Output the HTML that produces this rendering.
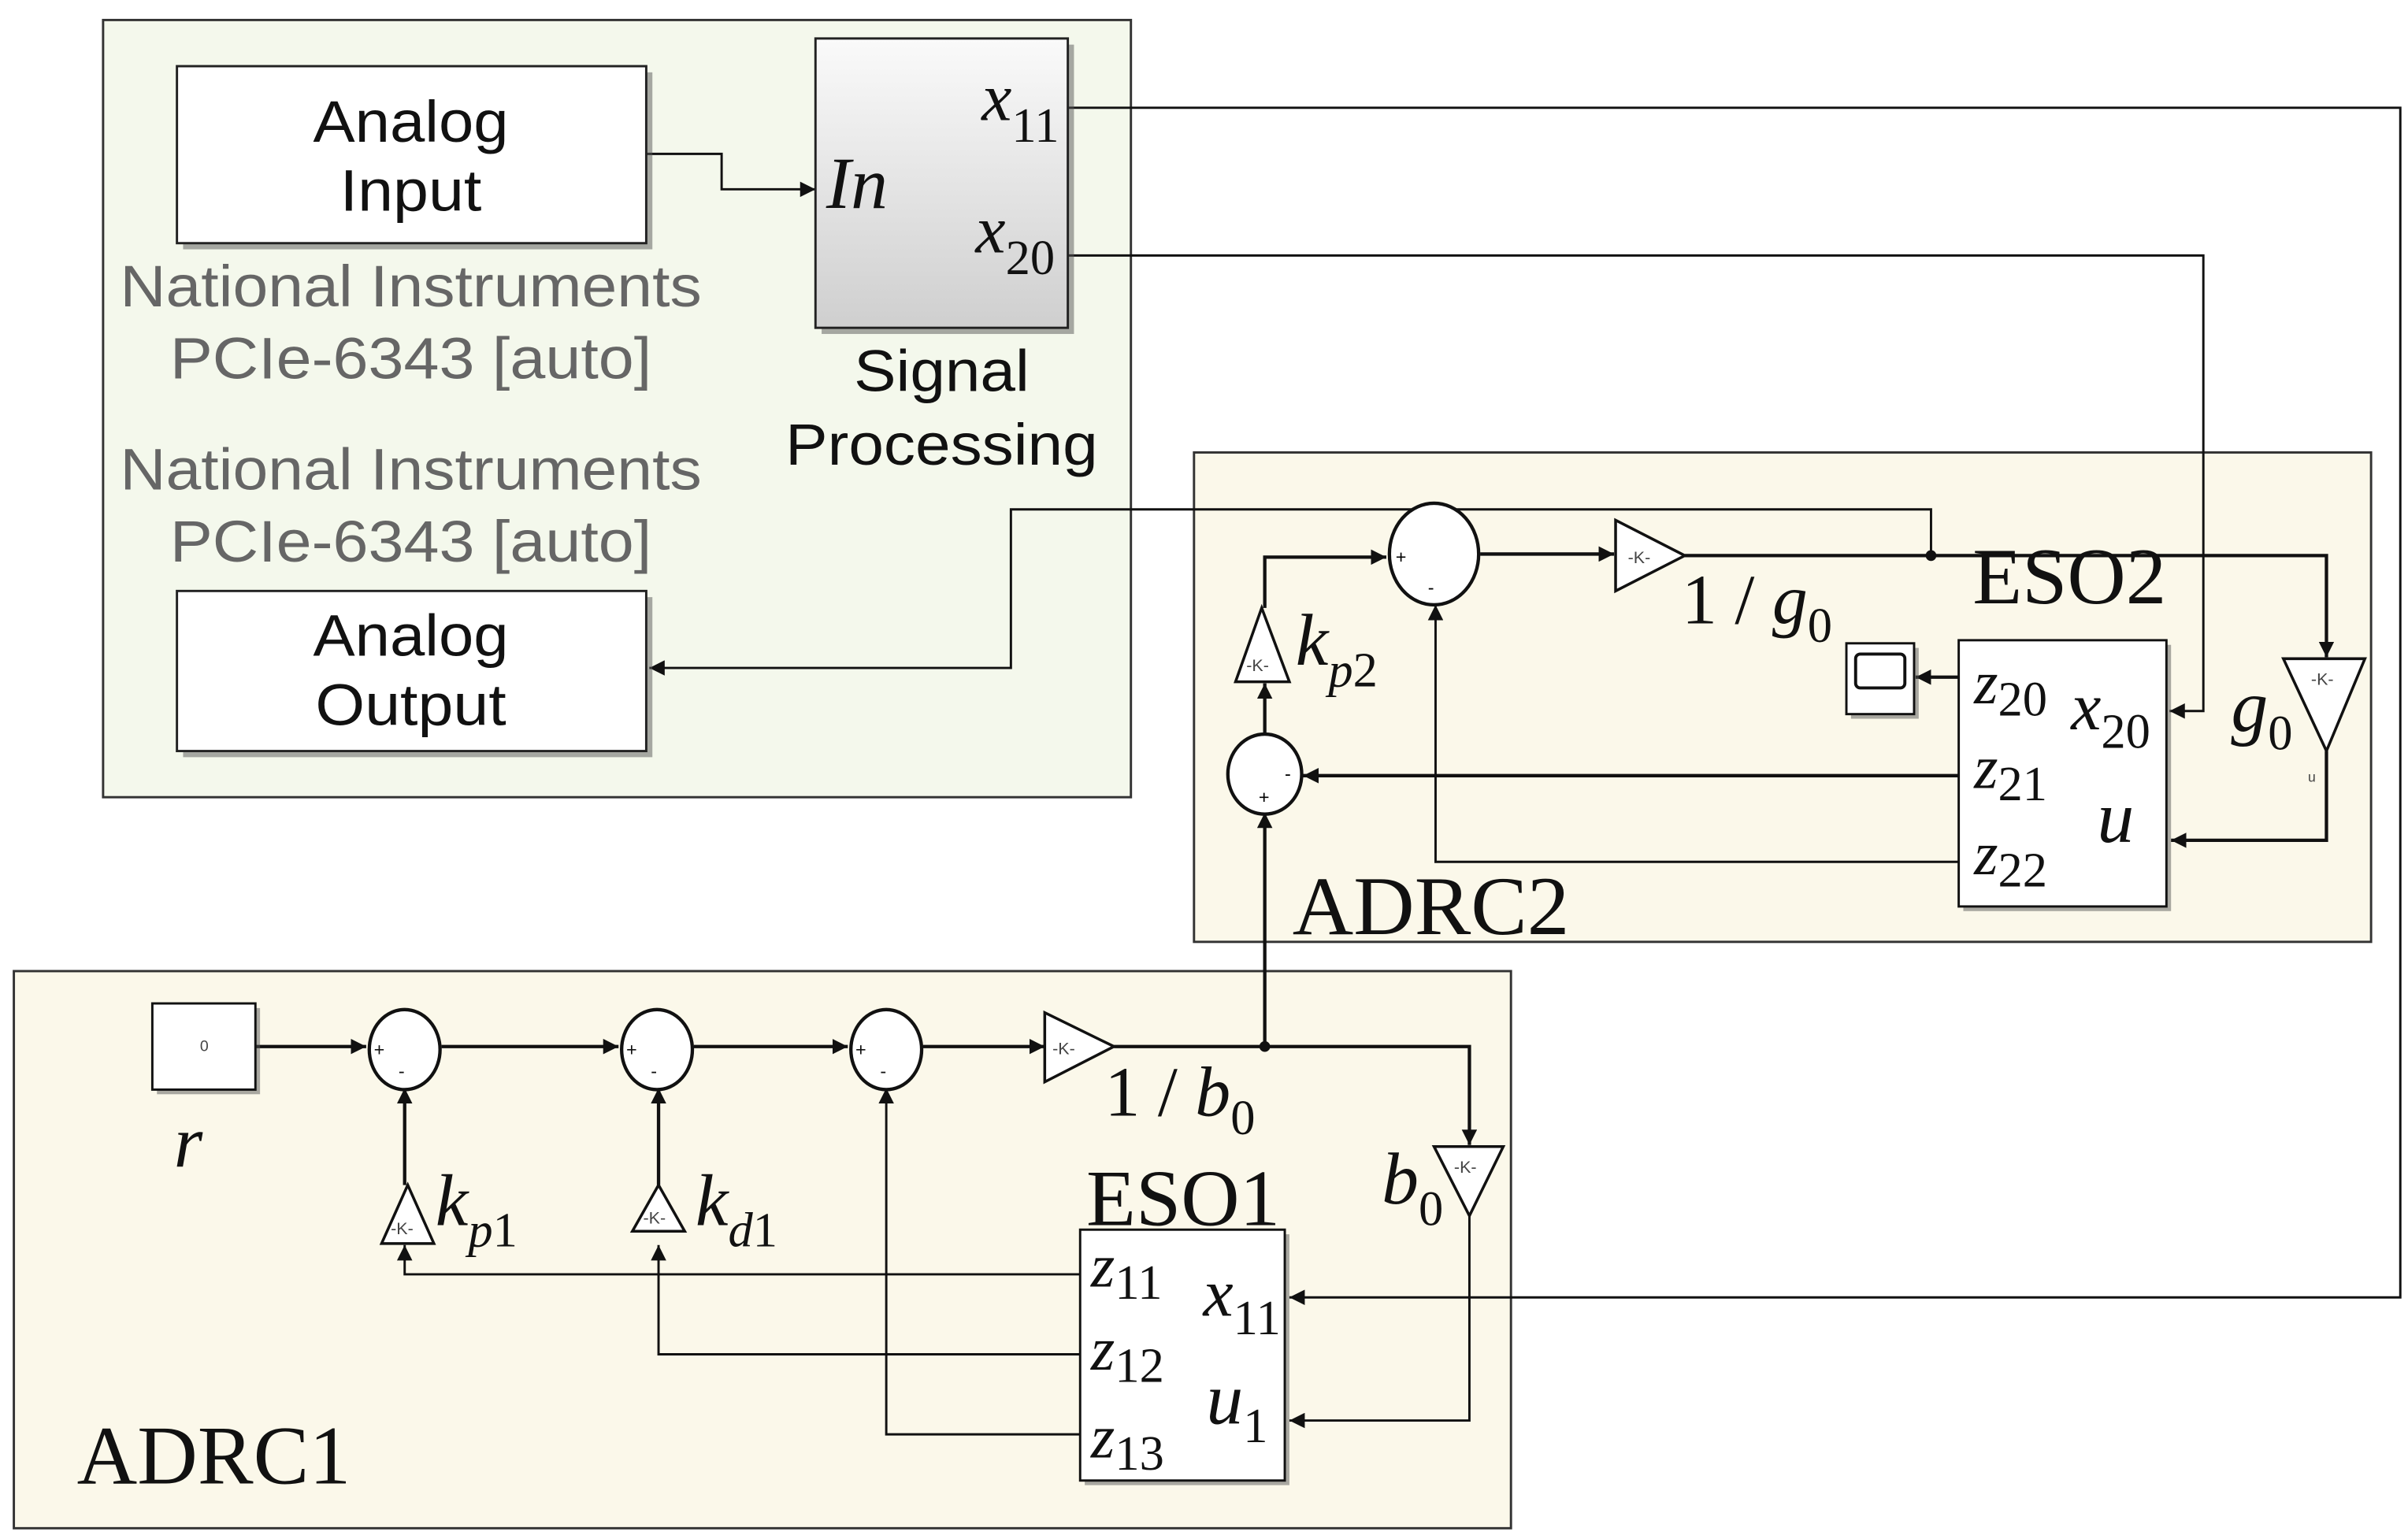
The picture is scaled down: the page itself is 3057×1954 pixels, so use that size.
<!DOCTYPE html>
<html><head><meta charset="utf-8"><style>
html,body{margin:0;padding:0;background:#fff;}
svg{display:block;}
.s{font-family:"Liberation Sans",sans-serif;}
.r{font-family:"Liberation Serif",serif;}
</style></head><body>
<svg width="3057" height="1954" viewBox="0 0 1565 1000" preserveAspectRatio="none" xmlns="http://www.w3.org/2000/svg">
<defs>
<marker id="a" viewBox="0 0 10 10" refX="10" refY="5" markerWidth="10" markerHeight="10" markerUnits="userSpaceOnUse" orient="auto"><path d="M0,0L10,5L0,10z" fill="#111"/></marker>
<linearGradient id="g" x1="0" y1="0" x2="0" y2="1"><stop offset="0" stop-color="#fafafa"/><stop offset="1" stop-color="#cfcfcf"/></linearGradient>
</defs>
<rect width="1565" height="1000" fill="#fff"/>
<rect x="67" y="13" width="668" height="505" fill="#f4f8ec" stroke="#333" stroke-width="1.5"/>
<rect x="776" y="294" width="765" height="318" fill="#fbf8ea" stroke="#333" stroke-width="1.5"/>
<rect x="9" y="631" width="973" height="362" fill="#fbf8ea" stroke="#333" stroke-width="1.5"/>

<g stroke="#111" stroke-width="1.5" fill="none">
<polyline points="420,100 469,100 469,123 530,123" marker-end="url(#a)"/>
<polyline points="694,70 1560,70 1560,843 838,843" marker-end="url(#a)"/>
<polyline points="694,166 1432,166 1432,462 1410,462" marker-end="url(#a)"/>
<polyline points="1255,361 1255,331 657,331 657,434 422,434" marker-end="url(#a)"/>
<g stroke-width="2.2">
<polyline points="822,395 822,362 901,362" marker-end="url(#a)"/>
<line x1="962" y1="360" x2="1049" y2="360" marker-end="url(#a)"/>
<polyline points="1095,361 1512,361 1512,427" marker-end="url(#a)"/>
<polyline points="1512,488 1512,546 1411,546" marker-end="url(#a)"/>
<line x1="1273" y1="440" x2="1245" y2="440" marker-end="url(#a)"/>
<line x1="1273" y1="504" x2="847" y2="504" marker-end="url(#a)"/>
<line x1="822" y1="479" x2="822" y2="444" marker-end="url(#a)"/>
<line x1="822" y1="680" x2="822" y2="528" marker-end="url(#a)"/>
<line x1="166" y1="680" x2="238" y2="680" marker-end="url(#a)"/>
<line x1="287" y1="680" x2="402" y2="680" marker-end="url(#a)"/>
<line x1="451" y1="680" x2="551" y2="680" marker-end="url(#a)"/>
<line x1="600" y1="680" x2="679" y2="680" marker-end="url(#a)"/>
<polyline points="724,680 955,680 955,744" marker-end="url(#a)"/>
<line x1="263" y1="770" x2="263" y2="707" marker-end="url(#a)"/>
<line x1="428" y1="770" x2="428" y2="707" marker-end="url(#a)"/>
</g>
<polyline points="1273,560 933,560 933,393" marker-end="url(#a)"/>
<polyline points="955,790 955,923 838,923" marker-end="url(#a)"/>
<polyline points="702,828 263,828 263,809" marker-end="url(#a)"/>
<polyline points="702,880 428,880 428,809" marker-end="url(#a)"/>
<polyline points="702,932 576,932 576,707" marker-end="url(#a)"/>
</g>
<circle cx="1255" cy="361" r="3.5" fill="#111"/>
<circle cx="822" cy="680" r="3.5" fill="#111"/>

<rect x="119" y="47" width="305" height="115" fill="#555" opacity="0.5"/>
<rect x="115" y="43" width="305" height="115" fill="#fff" stroke="#222" stroke-width="1.5"/>
<rect x="119" y="388" width="305" height="104" fill="#555" opacity="0.5"/>
<rect x="115" y="384" width="305" height="104" fill="#fff" stroke="#222" stroke-width="1.5"/>
<rect x="534" y="29" width="164" height="188" fill="#555" opacity="0.5"/>
<rect x="530" y="25" width="164" height="188" fill="url(#g)" stroke="#222" stroke-width="1.5"/>
<g class="s" font-size="38" text-anchor="middle" fill="#111" lengthAdjust="spacingAndGlyphs">
<text x="267" y="92" textLength="127" lengthAdjust="spacingAndGlyphs">Analog</text><text x="267" y="137" textLength="92" lengthAdjust="spacingAndGlyphs">Input</text>
<text x="267" y="426" textLength="127" lengthAdjust="spacingAndGlyphs">Analog</text><text x="267" y="471" textLength="124" lengthAdjust="spacingAndGlyphs">Output</text>
<text x="612" y="254" textLength="114" lengthAdjust="spacingAndGlyphs">Signal</text><text x="612" y="302" textLength="203" lengthAdjust="spacingAndGlyphs">Processing</text>
</g>
<g class="s" font-size="38" text-anchor="middle" fill="#666">
<text x="267" y="199" textLength="378" lengthAdjust="spacingAndGlyphs">National Instruments</text><text x="267" y="246" textLength="313" lengthAdjust="spacingAndGlyphs">PCIe-6343 [auto]</text>
<text x="267" y="318" textLength="378" lengthAdjust="spacingAndGlyphs">National Instruments</text><text x="267" y="365" textLength="313" lengthAdjust="spacingAndGlyphs">PCIe-6343 [auto]</text>
</g>
<g class="r" font-style="italic" fill="#111">
<text x="537" y="135" font-size="48">In</text>
<text x="638" y="78" font-size="44">x<tspan font-style="normal" font-size="32" dy="14">11</tspan></text>
<text x="634" y="164" font-size="44">x<tspan font-style="normal" font-size="32" dy="14">20</tspan></text>
</g>

<ellipse cx="932" cy="360" rx="29" ry="33" fill="#fff" stroke="#111" stroke-width="2.2"/>
<text x="907" y="366" font-size="12" class="s">+</text><text x="928" y="386" font-size="12" class="s">-</text>
<ellipse cx="822" cy="503" rx="24" ry="26" fill="#fff" stroke="#111" stroke-width="2.2"/>
<text x="835" y="507" font-size="12" class="s">-</text><text x="818" y="522" font-size="12" class="s">+</text>
<polygon points="1050,338 1095,361 1050,384" fill="#fff" stroke="#111" stroke-width="1.8"/>
<text x="1058" y="366" font-size="11" class="s" fill="#444">-K-</text>
<polygon points="803,443 820,395 838,443" fill="#fff" stroke="#111" stroke-width="1.8"/>
<text x="810" y="436" font-size="11" class="s" fill="#444">-K-</text>
<polygon points="1484,428 1537,428 1512,488" fill="#fff" stroke="#111" stroke-width="1.8"/>
<text x="1502" y="445" font-size="11" class="s" fill="#444">-K-</text>
<text x="1500" y="508" font-size="9" class="s" fill="#444">u</text>
<rect x="1203" y="421" width="44" height="46" fill="#555" opacity="0.5"/>
<rect x="1200" y="418" width="44" height="46" fill="#fff" stroke="#111" stroke-width="1.5"/>
<rect x="1206" y="425" width="32" height="22" rx="3" fill="#fff" stroke="#111" stroke-width="2"/>
<rect x="1276" y="419" width="135" height="173" fill="#555" opacity="0.5"/>
<rect x="1273" y="416" width="135" height="173" fill="#fff" stroke="#111" stroke-width="1.5"/>
<g class="r" fill="#111">
<text x="1093" y="405" font-size="46">1 / <tspan font-style="italic">g</tspan><tspan font-size="32" dy="12">0</tspan></text>
<text x="1282" y="392" font-size="52" textLength="126" lengthAdjust="spacingAndGlyphs">ESO2</text>
<text x="1283" y="457" font-size="40" font-style="italic">z<tspan font-style="normal" font-size="32" dy="8">20</tspan></text>
<text x="1283" y="512" font-size="40" font-style="italic">z<tspan font-style="normal" font-size="32" dy="8">21</tspan></text>
<text x="1283" y="568" font-size="40" font-style="italic">z<tspan font-style="normal" font-size="32" dy="8">22</tspan></text>
<text x="1346" y="474" font-size="44" font-style="italic">x<tspan font-style="normal" font-size="32" dy="12">20</tspan></text>
<text x="1363" y="547" font-size="48" font-style="italic">u</text>
<text x="1450" y="475" font-size="48" font-style="italic">g<tspan font-style="normal" font-size="32" dy="12">0</tspan></text>
<text x="842" y="432" font-size="48" font-style="italic">k<tspan font-size="32" dy="14">p</tspan><tspan font-style="normal" font-size="32">2</tspan></text>
<text x="840" y="607" font-size="54" textLength="180" lengthAdjust="spacingAndGlyphs">ADRC2</text>
</g>

<rect x="102" y="655" width="67" height="56" fill="#555" opacity="0.5"/>
<rect x="99" y="652" width="67" height="56" fill="#fff" stroke="#111" stroke-width="1.5"/>
<text x="130" y="683" font-size="10" class="s" fill="#444">0</text>
<g fill="#fff" stroke="#111" stroke-width="2.2">
<ellipse cx="263" cy="682" rx="23" ry="26"/>
<ellipse cx="427" cy="682" rx="23" ry="26"/>
<ellipse cx="576" cy="682" rx="23" ry="26"/>
</g>
<g class="s" font-size="12" fill="#111">
<text x="243" y="686">+</text><text x="259" y="700">-</text>
<text x="407" y="686">+</text><text x="423" y="700">-</text>
<text x="556" y="686">+</text><text x="572" y="700">-</text>
</g>
<polygon points="679,658 724,680 679,703" fill="#fff" stroke="#111" stroke-width="1.8"/>
<text x="684" y="685" font-size="11" class="s" fill="#444">-K-</text>
<polygon points="248,808 265,770 282,808" fill="#fff" stroke="#111" stroke-width="1.8"/>
<text x="254" y="802" font-size="11" class="s" fill="#444">-K-</text>
<polygon points="411,800 428,770 445,800" fill="#fff" stroke="#111" stroke-width="1.8"/>
<text x="418" y="795" font-size="11" class="s" fill="#444">-K-</text>
<polygon points="932,745 977,745 955,790" fill="#fff" stroke="#111" stroke-width="1.8"/>
<text x="945" y="762" font-size="11" class="s" fill="#444">-K-</text>
<rect x="705" y="802" width="133" height="163" fill="#555" opacity="0.5"/>
<rect x="702" y="799" width="133" height="163" fill="#fff" stroke="#111" stroke-width="1.5"/>
<g class="r" fill="#111">
<text x="113" y="758" font-size="48" font-style="italic">r</text>
<text x="718" y="725" font-size="46">1 / <tspan font-style="italic">b</tspan><tspan font-size="32" dy="12">0</tspan></text>
<text x="706" y="796" font-size="52" textLength="126" lengthAdjust="spacingAndGlyphs">ESO1</text>
<text x="898" y="782" font-size="48" font-style="italic">b<tspan font-style="normal" font-size="32" dy="14">0</tspan></text>
<text x="283" y="796" font-size="48" font-style="italic">k<tspan font-size="32" dy="14">p</tspan><tspan font-style="normal" font-size="32">1</tspan></text>
<text x="452" y="796" font-size="48" font-style="italic">k<tspan font-size="32" dy="14">d</tspan><tspan font-style="normal" font-size="32">1</tspan></text>
<text x="709" y="836" font-size="40" font-style="italic">z<tspan font-style="normal" font-size="32" dy="8">11</tspan></text>
<text x="709" y="890" font-size="40" font-style="italic">z<tspan font-style="normal" font-size="32" dy="8">12</tspan></text>
<text x="709" y="947" font-size="40" font-style="italic">z<tspan font-style="normal" font-size="32" dy="8">13</tspan></text>
<text x="782" y="855" font-size="44" font-style="italic">x<tspan font-style="normal" font-size="32" dy="12">11</tspan></text>
<text x="784" y="925" font-size="48" font-style="italic">u<tspan font-style="normal" font-size="32" dy="12">1</tspan></text>
<text x="50" y="964" font-size="54" textLength="178" lengthAdjust="spacingAndGlyphs">ADRC1</text>
</g>
</svg>
</body></html>
